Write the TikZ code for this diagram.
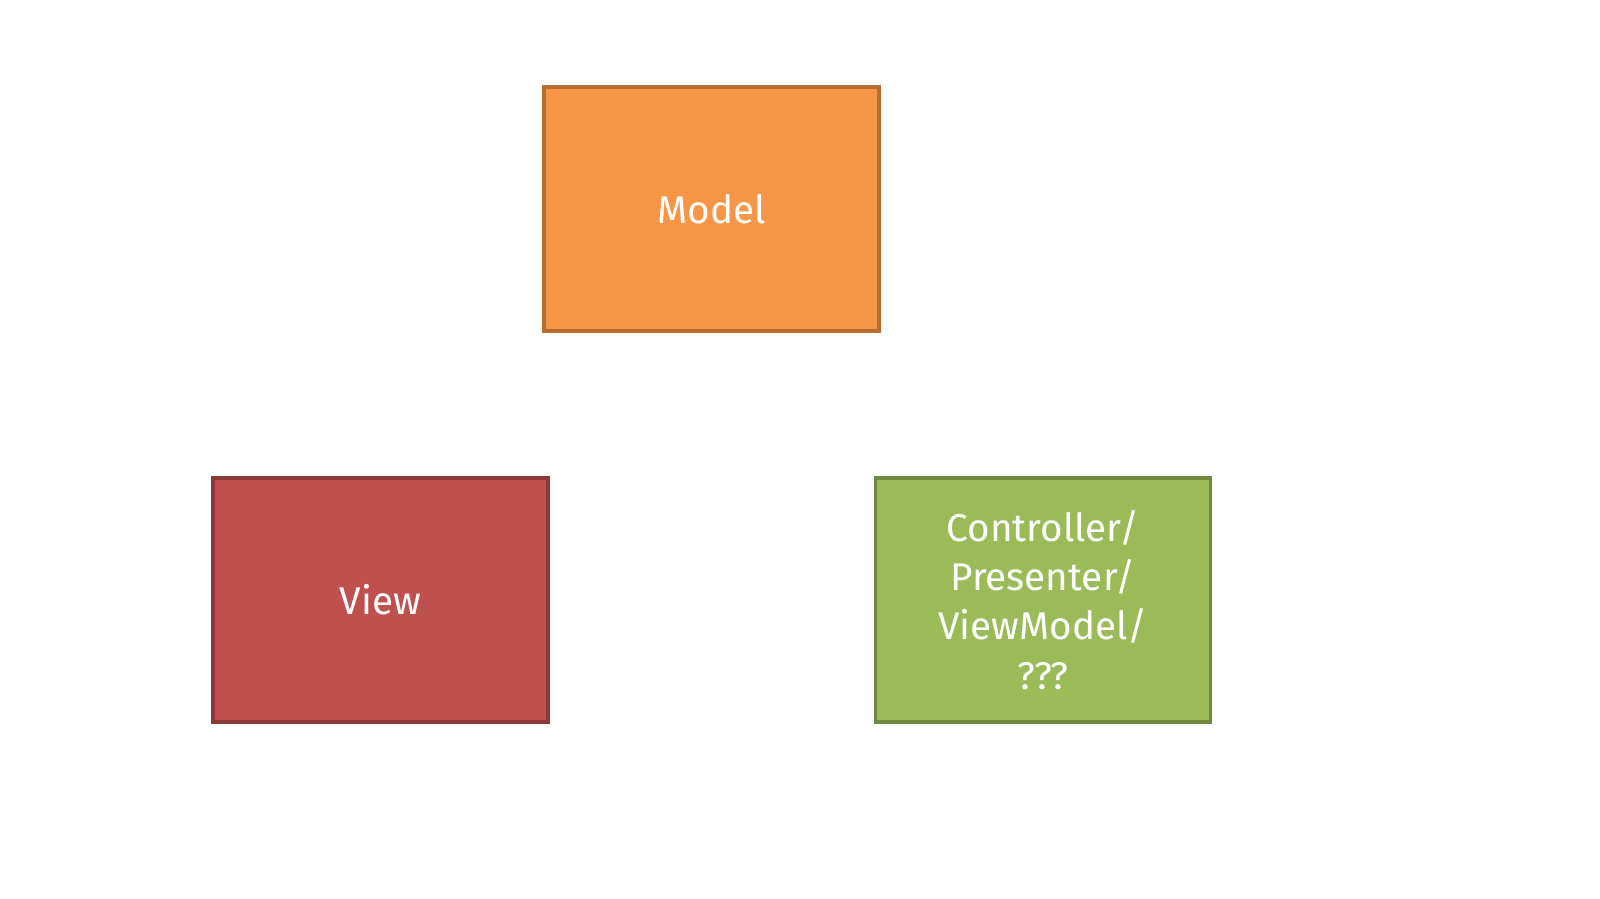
\documentclass[tikz,border=0pt]{standalone}
\usepackage{fontspec}
\setmainfont{Fira Sans}
\usetikzlibrary{positioning}
\definecolor{MOrange}{HTML}{F79646}
\definecolor{MOrangeD}{HTML}{B66D31}
\definecolor{VRed}{HTML}{C0504D}
\definecolor{VRedD}{HTML}{8C3836}
\definecolor{CGreen}{HTML}{9BBB59}
\definecolor{CGreenD}{HTML}{71893F}
\tikzset{
    part/.style={draw, line width=2pt, minimum width=6.7cm, minimum height=4.88cm,
        inner sep=0pt, text=white, align=center,
        font=\fontsize{22}{28}\selectfont}, % common box look
}
\begin{document}
\begin{tikzpicture}
    \useasboundingbox (0,0) rectangle (32,17.98);
    \node[part, fill=MOrange, draw=MOrangeD] (model) at (14.23,13.8) {Model};
    \node[part, fill=VRed, draw=VRedD] (view) at (7.61,5.98) {View};
    \node[part, fill=CGreen, draw=CGreenD] (ctrl) at (20.86,5.98)
        {Controller/\\Presenter/\\ViewModel/\\???};
\end{tikzpicture}
\end{document}
